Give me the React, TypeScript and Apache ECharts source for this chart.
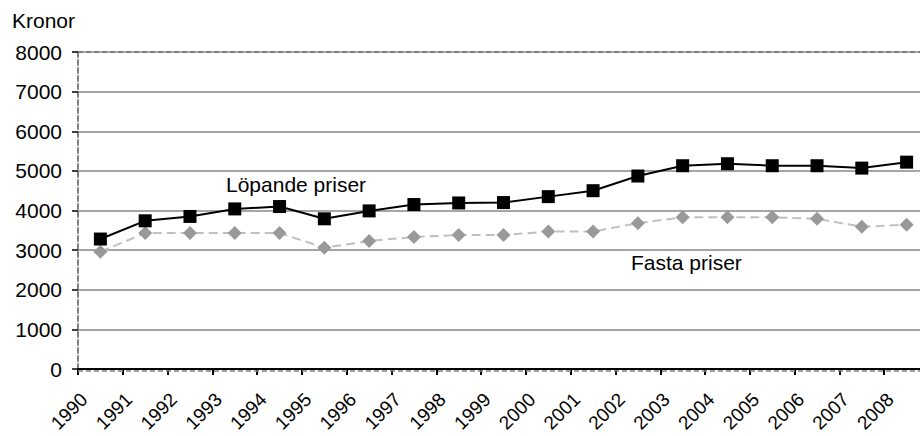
import React, { useEffect, useRef } from "react";
import * as echarts from "echarts";

const years = ["1990","1991","1992","1993","1994","1995","1996","1997","1998","1999","2000","2001","2002","2003","2004","2005","2006","2007","2008"];
const lopande = [3280,3740,3850,4040,4100,3790,3990,4150,4190,4200,4350,4500,4870,5130,5180,5130,5130,5070,5220];
const fasta = [2960,3430,3430,3430,3430,3060,3230,3330,3380,3380,3470,3470,3680,3830,3830,3830,3790,3590,3640];
const yTicks = { min: 0, max: 8000, interval: 1000 };

const FONT = "'Liberation Sans', Arial, sans-serif";

export default function App() {
  const ref = useRef<HTMLDivElement>(null);
  useEffect(() => {
    if (!ref.current) return;
    const chart = echarts.init(ref.current, null, { renderer: "svg" });
    chart.setOption({
      animation: false,
      backgroundColor: "#ffffff",
      textStyle: { fontFamily: FONT },
      grid: { left: 78, right: -9, top: 52, bottom: 67, containLabel: false, outerBoundsMode: "none" },
      xAxis: {
        type: "category",
        data: years,
        boundaryGap: true,
        axisLine: { show: true, lineStyle: { color: "#000", width: 2 } },
        axisTick: { show: true, alignWithLabel: false, length: 6, lineStyle: { color: "#000", width: 2 } },
        axisLabel: {
          rotate: 45,
          margin: 11,
          padding: [0, 23, 0, 0],
          fontSize: 19,
          color: "#000",
          fontFamily: FONT,
          interval: 0,
        },
        splitLine: { show: false },
      },
      yAxis: {
        type: "value",
        min: yTicks.min,
        max: yTicks.max,
        interval: yTicks.interval,
        axisLine: { show: true, lineStyle: { color: "#808080", width: 2, type: [5, 3] } },
        axisTick: { show: true, length: 6, lineStyle: { color: "#000", width: 1.5 } },
        axisLabel: {
          fontSize: 21,
          color: "#000",
          fontFamily: FONT,
          margin: 16,
          formatter: (v: number) => String(v),
        },
        splitLine: { show: true, lineStyle: { color: "#a6a6a6", width: 2 } },
      },
      series: [
        {
          name: "Fasta priser",
          type: "line",
          data: fasta,
          symbol: "diamond",
          symbolSize: [14, 14],
          itemStyle: { color: "#999999" },
          lineStyle: { color: "#c0c0c0", width: 2, type: [9, 5] },
          z: 2,
        },
        {
          name: "Löpande priser",
          type: "line",
          data: lopande,
          symbol: "rect",
          symbolSize: 13,
          itemStyle: { color: "#000" },
          lineStyle: { color: "#000", width: 2 },
          z: 3,
        },
      ],
      graphic: [
        {
          type: "line",
          shape: { x1: 78, y1: 52, x2: 920, y2: 52 },
          style: { stroke: "#808080", lineWidth: 2, lineDash: [5, 3] },
          z: 10,
        },
        {
          type: "line",
          shape: { x1: 78, y1: 371, x2: 920, y2: 371 },
          style: { stroke: "#808080", lineWidth: 1.5, lineDash: [5, 3] },
          z: 10,
        },
        {
          type: "text",
          left: 12,
          top: 10,
          style: { text: "Kronor", fontSize: 21, fill: "#000", fontFamily: FONT },
        },
        {
          type: "text",
          left: 226,
          top: 174,
          style: { text: "Löpande priser", fontSize: 21, fill: "#000", fontFamily: FONT },
        },
        {
          type: "text",
          left: 631,
          top: 252,
          style: { text: "Fasta priser", fontSize: 21, fill: "#000", fontFamily: FONT },
        },
      ],
    });
    return () => chart.dispose();
  }, []);
  return <div ref={ref} style={{ width: 920, height: 436, position: "absolute", left: 0, top: 0 }} />;
}
